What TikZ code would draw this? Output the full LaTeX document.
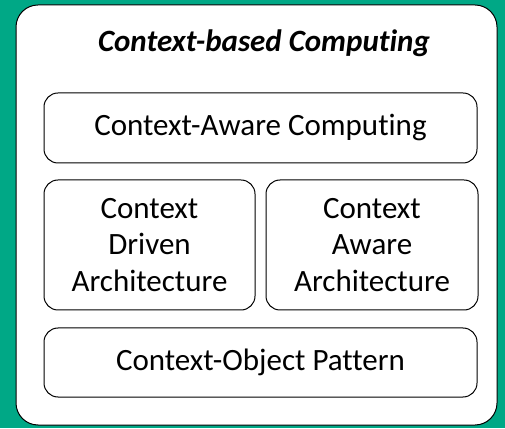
\documentclass[tikz,border=0pt]{standalone}
\usepackage{fontspec}
\setmainfont{Carlito}[Ligatures=NoCommon]
\usetikzlibrary{positioning}
\definecolor{bgteal}{RGB}{0,168,134}

\begin{document}
\begin{tikzpicture}[x=1pt,y=1pt,
  box/.style={draw,rounded corners=14pt,line width=1pt,fill=white,align=center,
              inner sep=0pt,font=\fontsize{31}{36.5}\selectfont},
  frame/.style={draw,rounded corners=22pt,line width=1pt,fill=white,inner sep=0pt}
]
\fill[bgteal] (0,0) rectangle (505,428);
\useasboundingbox (0,0) rectangle (505,428);
\node[frame, minimum width=481pt, minimum height=420pt] (frame) at (256.5,213) {};
\node[font=\fontsize{31}{36}\selectfont\bfseries\itshape] (title) at (264,385) {Context-based Computing};
\node[box, minimum width=433pt, minimum height=70pt] (cac) at (260.5,300) {Context-Aware Computing};
\node[box, minimum width=211pt, minimum height=130pt] (cda) at (149.5,183) {Context\\ Driven\\ Architecture};
\node[box, minimum width=212pt, minimum height=130pt] (caa) at (372,183) {Context\\ Aware\\ Architecture};
\node[box, minimum width=433pt, minimum height=69pt] (cop) at (260.5,65.5) {Context-Object Pattern};
\end{tikzpicture}
\end{document}
